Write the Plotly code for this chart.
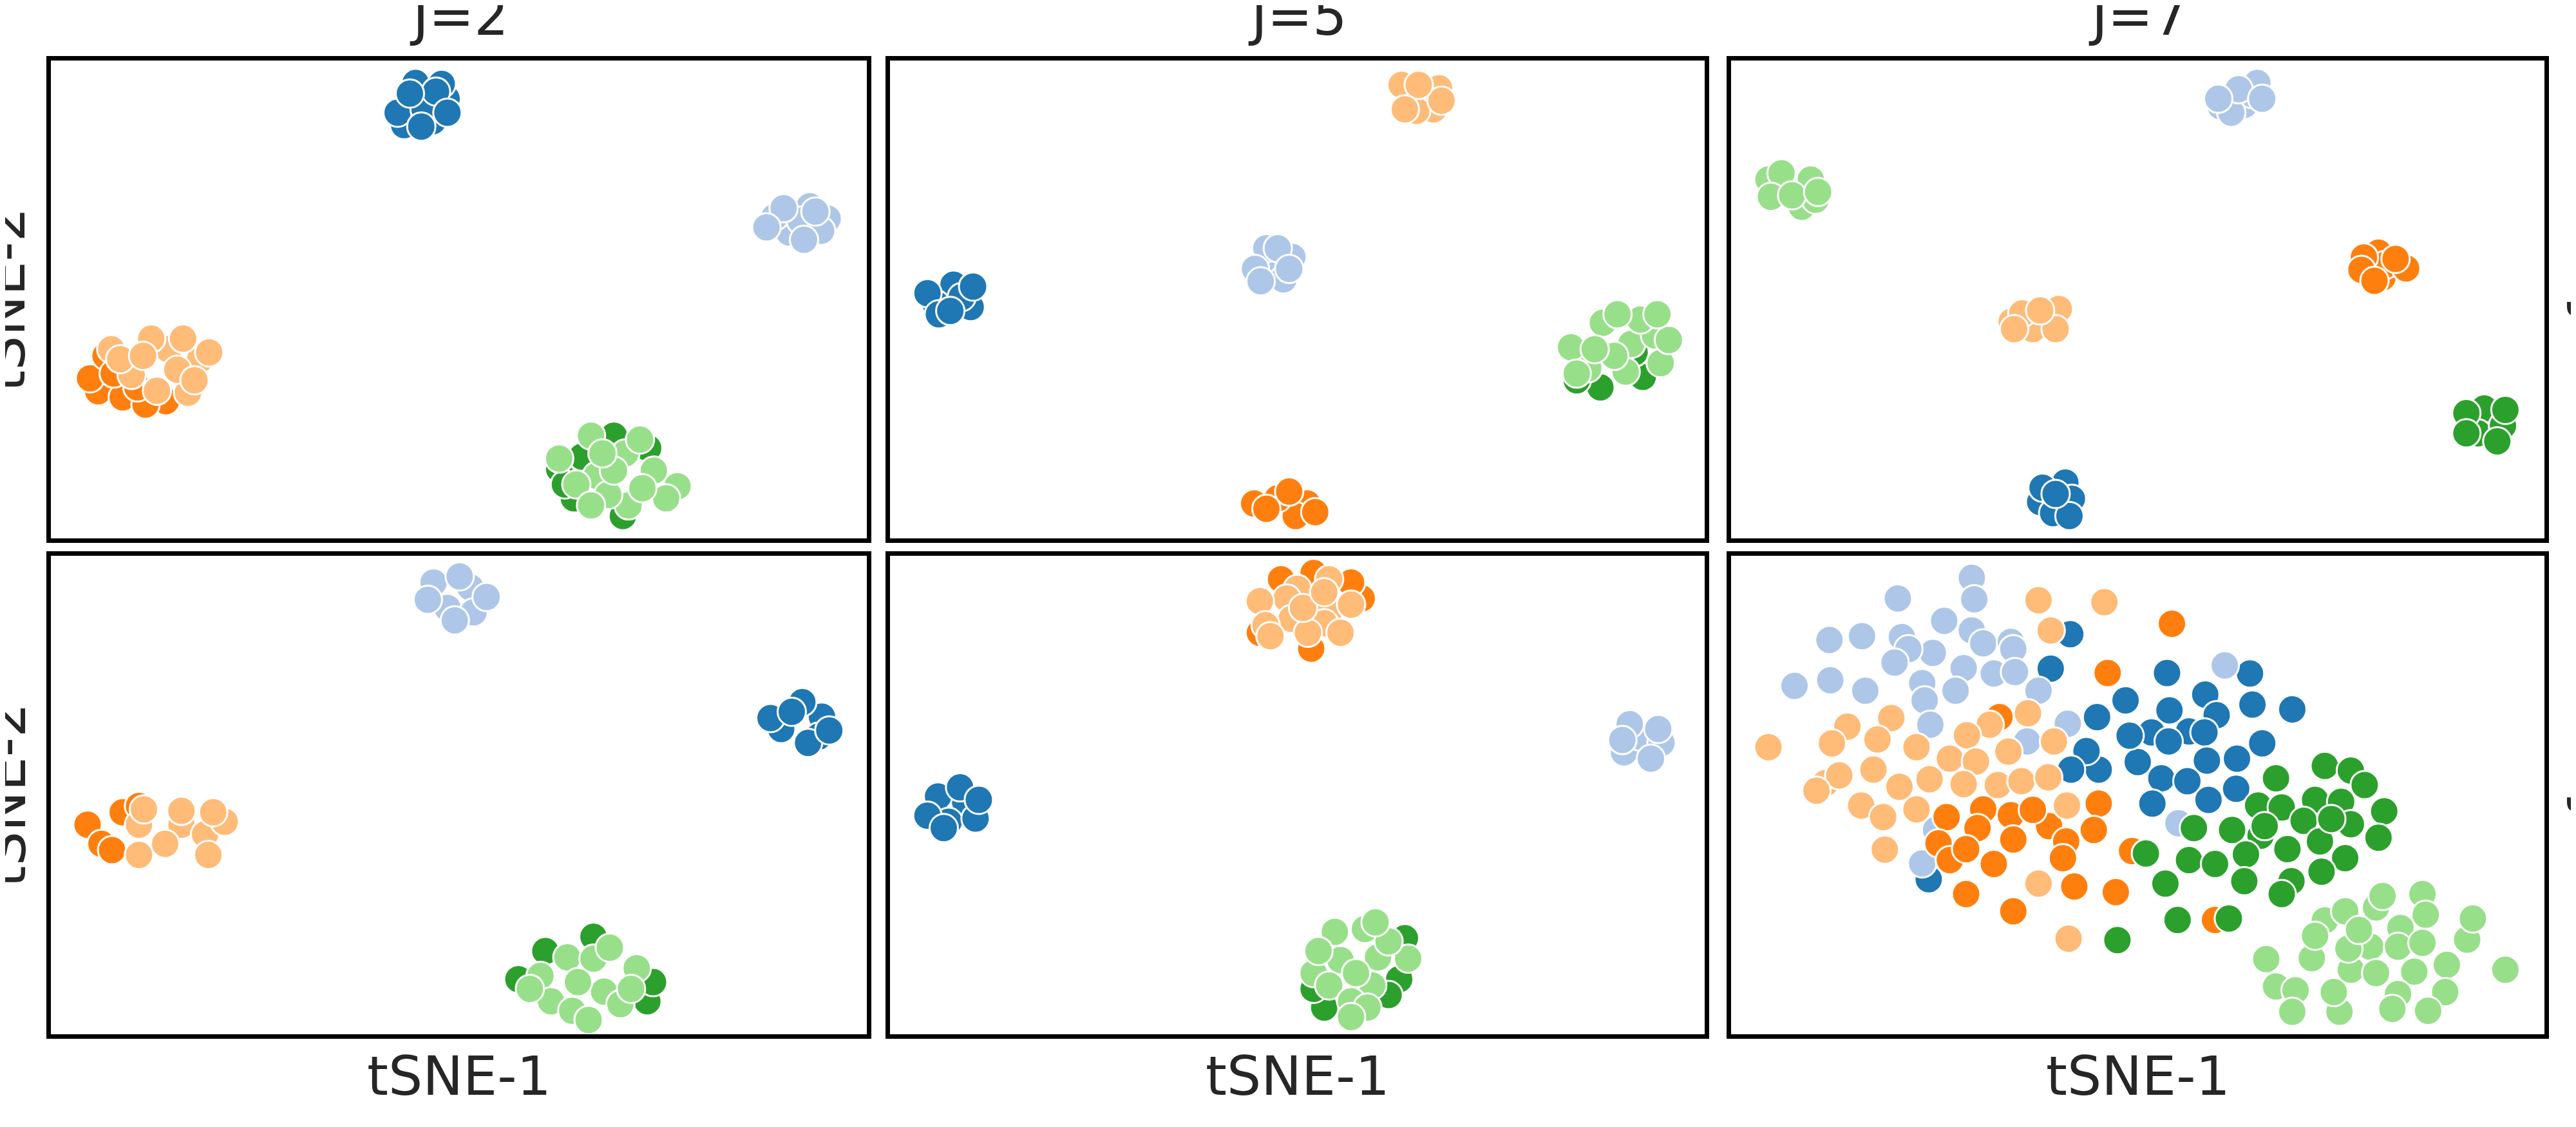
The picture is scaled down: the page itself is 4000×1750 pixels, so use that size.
import plotly.graph_objects as go

W, H = 4000, 1750

# hue categories (tab20 pairs) in plotting order
CLASSES = ["c0", "c1", "c2", "c3", "c4", "c5"]
COLORS = ["#1f77b4", "#aec7e8", "#ff7f0e", "#ffbb78", "#2ca02c", "#98df8a"]

COL_TITLES = ["J=2", "J=5", "J=7"]
X_LABEL = "tSNE-1"
Y_LABEL = "tSNE-2"
ROW_LABEL = "\u0192"

# ---------------- panel 1 (row 1, J=2) ----------------
p1_c0 = [(43.7, 90.9), (48.5, 92.0), (46.8, 87.3), (43.3, 86.5), (44.7, 95.3), (47.9, 95.1),
         (42.5, 89.1), (45.8, 89.8), (47.2, 93.5), (44.0, 93.1), (48.6, 89.1), (45.4, 86.2)]
p1_c1 = [(90.5, 64.0), (95.2, 66.9), (93.0, 69.5), (88.7, 67.3), (91.9, 66.5), (94.4, 64.4),
         (89.8, 69.1), (92.3, 62.5), (87.7, 65.1), (93.7, 68.4)]
p1_c2 = [(5.8, 30.8), (8.8, 29.5), (4.8, 33.5), (6.7, 38.2), (14.1, 28.7), (11.6, 28.0),
         (7.7, 34.5), (10.6, 31.6)]
p1_c3 = [(7.4, 39.6), (14.4, 39.6), (9.9, 34.2), (13.0, 30.9), (16.8, 30.5), (18.3, 37.5),
         (12.3, 41.8), (16.2, 41.8), (19.4, 38.9), (15.5, 35.3), (8.5, 37.5), (11.3, 38.2),
         (17.6, 33.1)]
p1_c4 = [(62.3, 14.5), (64.1, 8.4), (66.2, 21.1), (73.2, 18.9), (70.1, 4.7), (65.1, 17.1),
         (69.0, 21.5), (63.0, 11.3)]
p1_c5 = [(66.9, 13.1), (70.4, 17.8), (72.2, 20.7), (66.2, 21.5), (62.3, 16.7), (64.4, 11.3),
         (76.8, 10.9), (75.4, 8.4), (70.8, 6.9), (68.3, 9.1), (73.9, 14.2), (69.0, 14.2),
         (72.5, 10.5), (67.6, 17.8), (66.2, 6.9)]

# ---------------- panel 2 (row 1, J=5) ----------------
p2_c0 = [(7.8, 53.1), (5.6, 49.1), (9.9, 48.4), (4.6, 51.3), (8.8, 50.5), (6.0, 46.9),
         (10.2, 52.7), (7.4, 47.6)]
p2_c1 = [(46.6, 57.2), (49.4, 58.9), (46.2, 60.7), (48.3, 54.2), (44.8, 56.4), (47.6, 60.7),
         (45.5, 53.8), (49.0, 56.4)]
p2_c2 = [(44.7, 7.3), (51.2, 7.3), (49.8, 4.7), (47.6, 8.4), (46.2, 6.2), (49.0, 9.8),
         (52.2, 5.5)]
p2_c3 = [(65.4, 92.7), (63.5, 92.0), (67.4, 94.2), (62.8, 94.9), (66.7, 89.8), (64.6, 89.5),
         (67.7, 91.6), (64.9, 94.9), (63.2, 89.8)]
p2_c4 = [(92.4, 33.8), (87.2, 31.6), (93.2, 46.2), (84.3, 33.1), (91.4, 38.9)]
p2_c5 = [(85.7, 35.6), (90.3, 34.9), (87.5, 45.1), (91.0, 40.7), (93.9, 42.5), (83.6, 40.0),
         (94.6, 36.7), (92.1, 45.8), (88.9, 38.2), (84.3, 34.5), (95.6, 41.5), (86.5, 39.6),
         (89.3, 46.9), (94.2, 46.9)]

# ---------------- panel 3 (row 1, J=7) ----------------
p3_c0 = [(41.1, 11.7), (41.9, 8.3), (38.0, 7.6), (39.6, 5.3), (38.3, 10.6), (41.6, 4.7),
         (39.9, 9.3)]
p3_c1 = [(63.1, 90.7), (64.0, 93.0), (60.2, 90.4), (61.5, 89.1), (64.7, 95.3), (62.4, 94.0),
         (65.3, 92.0), (59.9, 92.0)]
p3_c2 = [(79.6, 59.8), (80.1, 54.6), (80.4, 57.2), (77.8, 58.8), (83.0, 56.5), (77.5, 56.2),
         (81.7, 58.5), (79.1, 53.9)]
p3_c3 = [(34.5, 45.4), (39.0, 45.8), (40.3, 48.0), (37.1, 43.8), (35.8, 47.1), (39.9, 43.8),
         (34.8, 43.8), (38.0, 47.7)]
p3_c4 = [(92.6, 27.2), (91.8, 22.0), (94.9, 23.6), (90.4, 26.2), (94.2, 20.3), (90.4, 22.0),
         (95.2, 26.9)]
p3_c5 = [(4.6, 75.1), (8.7, 69.4), (10.4, 70.9), (8.5, 73.8), (6.2, 76.4), (9.8, 75.1),
         (4.9, 71.5), (7.5, 71.8), (10.7, 72.5)]

# ---------------- panel 4 (row 2, J=2) ----------------
p4_c0 = [(89.5, 63.8), (94.5, 66.4), (92.1, 69.4), (94.1, 62.2), (88.2, 66.1), (92.8, 60.9),
         (90.8, 67.4), (95.4, 63.5)]
p4_c1 = [(46.9, 94.4), (51.4, 93.4), (48.6, 89.1), (51.8, 88.2), (53.4, 91.4), (46.2, 90.8),
         (50.1, 95.7), (49.5, 86.5)]
p4_c2 = [(4.5, 43.8), (8.8, 46.4), (6.2, 39.8), (10.8, 47.7), (7.5, 38.5)]
p4_c3 = [(10.8, 43.8), (16.0, 43.8), (18.9, 41.8), (21.3, 44.4), (10.8, 37.5), (19.3, 37.5),
         (14.0, 39.8), (11.4, 47.0), (19.9, 46.4), (16.0, 46.7)]
p4_c4 = [(60.6, 17.4), (66.5, 20.4), (57.3, 11.5), (73.1, 6.9), (73.8, 10.9)]
p4_c5 = [(63.3, 16.1), (66.5, 15.8), (71.8, 13.8), (60.0, 12.2), (67.8, 8.9), (61.3, 6.9),
         (63.9, 4.9), (69.8, 6.3), (64.6, 10.9), (68.5, 18.1), (58.7, 9.5), (71.1, 9.5),
         (65.9, 3.0)]

# ---------------- panel 5 (row 2, J=5) ----------------
p5_c0 = [(9.2, 48.7), (5.9, 49.7), (7.2, 44.4), (10.5, 45.1), (4.6, 45.7), (8.6, 51.6),
         (6.6, 43.1), (10.9, 49.0)]
p5_c1 = [(90.1, 58.9), (92.1, 62.2), (94.7, 60.9), (93.4, 57.6), (90.8, 64.8), (94.3, 63.8),
         (89.9, 61.5)]
p5_c2 = [(48.0, 95.1), (52.0, 96.4), (57.9, 91.1), (51.7, 80.6), (45.4, 83.9), (56.6, 94.4)]
p5_c3 = [(53.9, 95.1), (50.0, 93.1), (48.7, 91.1), (45.4, 90.5), (53.9, 88.5), (49.3, 86.8),
         (46.1, 85.5), (53.3, 85.9), (56.6, 89.8), (51.3, 83.9), (46.7, 83.2), (55.3, 83.9),
         (50.7, 89.1), (53.3, 92.4)]
p5_c4 = [(63.2, 20.1), (62.5, 11.5), (53.3, 5.6), (61.2, 8.2), (52.0, 9.5)]
p5_c5 = [(54.6, 21.4), (58.3, 22.0), (55.3, 15.5), (59.9, 16.1), (63.6, 15.8), (52.0, 12.8),
         (53.9, 10.2), (59.2, 10.2), (56.6, 6.9), (58.6, 5.6), (56.6, 3.6), (52.6, 17.4),
         (61.2, 19.4), (57.2, 12.8), (59.6, 23.4)]

# ---------------- panel 6 (row 2, J=7) ----------------
p6_c0 = [(41.7, 83.6), (39.3, 76.4), (53.6, 75.5), (63.8, 75.4), (48.5, 69.8), (58.3, 71.0),
         (53.9, 67.7), (64.1, 68.9), (45.0, 66.3), (69.0, 67.9), (59.7, 66.7), (51.7, 63.1),
         (56.3, 63.3), (53.8, 61.2), (58.2, 63.1), (65.3, 60.8), (50.0, 56.9), (45.2, 55.3),
         (43.7, 59.2), (58.5, 57.2), (62.2, 57.6), (41.8, 55.3), (52.9, 53.5), (56.1, 52.9),
         (62.1, 51.3), (51.8, 48.2), (58.7, 49.0), (24.3, 32.4), (49.0, 62.4)]
p6_c1 = [(29.6, 95.4), (29.9, 90.9), (20.5, 91.1), (26.2, 86.4), (29.6, 84.4), (12.1, 82.4),
         (16.1, 83.2), (21.0, 83.0), (31.0, 81.7), (34.4, 82.0), (24.8, 79.7), (21.8, 80.5),
         (34.7, 80.5), (20.1, 77.7), (28.6, 76.5), (32.3, 75.4), (34.9, 75.7), (23.5, 73.4),
         (12.2, 74.0), (7.8, 72.8), (16.5, 71.8), (27.6, 71.8), (37.8, 71.8), (23.8, 69.8),
         (24.5, 64.7), (36.4, 61.2), (41.4, 64.9), (60.7, 77.1), (55.0, 44.1), (23.5, 35.7),
         (25.2, 42.7)]
p6_c2 = [(54.2, 85.8), (46.3, 75.5), (33.0, 66.3), (26.5, 45.4), (31.0, 47.0), (34.4, 45.8),
         (30.3, 43.1), (45.2, 48.2), (44.6, 42.7), (39.1, 43.5), (34.7, 40.7), (41.2, 40.3),
         (25.5, 39.9), (26.9, 36.4), (32.3, 35.6), (40.8, 36.8), (42.2, 30.9), (28.9, 29.3),
         (47.3, 29.7), (34.7, 25.7), (49.3, 38.3), (59.5, 23.9), (37.1, 46.9), (28.9, 38.7)]
p6_c3 = [(37.8, 90.7), (45.9, 90.3), (39.3, 84.4), (36.5, 67.1), (31.8, 64.7), (39.7, 61.2),
         (29.0, 62.5), (14.3, 64.3), (12.4, 60.8), (19.7, 66.1), (18.0, 61.6), (22.8, 60.0),
         (26.9, 57.6), (30.1, 57.0), (34.1, 59.1), (17.5, 55.3), (24.4, 53.3), (28.6, 52.3),
         (32.8, 52.1), (35.7, 52.9), (39.0, 53.7), (20.7, 51.7), (11.6, 52.5), (13.3, 54.1),
         (16.0, 47.8), (22.8, 47.0), (18.7, 45.4), (41.3, 47.8), (4.6, 60.0), (18.9, 38.6),
         (37.8, 31.5), (41.5, 20.0), (10.5, 50.9)]
p6_c4 = [(73.0, 56.1), (76.2, 55.1), (67.0, 53.5), (77.9, 52.1), (71.8, 49.0), (75.0, 48.6),
         (64.8, 47.8), (67.7, 47.4), (80.3, 46.6), (70.4, 44.6), (76.2, 43.9), (61.6, 42.7),
         (56.9, 43.1), (65.1, 41.5), (79.6, 41.1), (68.4, 38.7), (72.4, 40.3), (51.0, 37.8),
         (56.3, 36.4), (59.5, 35.6), (63.3, 37.6), (75.5, 36.8), (53.4, 31.5), (63.1, 32.0),
         (68.9, 32.0), (72.6, 34.0), (67.7, 29.3), (54.9, 23.9), (61.2, 24.2), (47.5, 19.7),
         (65.6, 43.5), (73.8, 45.0)]
p6_c5 = [(65.8, 15.7), (67.0, 10.0), (69.4, 9.2), (69.0, 4.7), (74.8, 4.7), (74.1, 8.8),
         (71.4, 15.9), (73.0, 23.8), (75.5, 25.7), (79.3, 26.5), (80.1, 28.9), (85.0, 29.3),
         (85.4, 25.0), (82.3, 22.2), (78.6, 18.3), (82.0, 18.3), (85.0, 19.1), (90.5, 19.8),
         (91.2, 24.2), (95.2, 13.5), (88.0, 14.5), (76.2, 13.5), (79.3, 12.8), (84.0, 13.1),
         (82.0, 8.4), (87.8, 8.8), (85.7, 4.9), (81.3, 5.3), (75.9, 17.9), (71.8, 20.6),
         (77.2, 21.8)]

PANELS = [
    [p1_c0, p1_c1, p1_c2, p1_c3, p1_c4, p1_c5],
    [p2_c0, p2_c1, p2_c2, p2_c3, p2_c4, p2_c5],
    [p3_c0, p3_c1, p3_c2, p3_c3, p3_c4, p3_c5],
    [p4_c0, p4_c1, p4_c2, p4_c3, p4_c4, p4_c5],
    [p5_c0, p5_c1, p5_c2, p5_c3, p5_c4, p5_c5],
    [p6_c0, p6_c1, p6_c2, p6_c3, p6_c4, p6_c5],
]

# ---------------- layout (pixels) ----------------
COL_X = [(71, 1338), (1374, 2639), (2680, 3943)]
ROW_Y = [(86, 828), (855, 1598)]
LW = 7
FONT = "DejaVu Sans"
TXT = "#262626"
FS = 84

fig = go.Figure()
layout = dict(
    width=W, height=H, margin=dict(l=0, r=0, t=0, b=0),
    paper_bgcolor="white", plot_bgcolor="white", showlegend=False,
    font=dict(family=FONT, color=TXT, size=FS),
)

for k, classes in enumerate(PANELS):
    r, c = divmod(k, 3)
    ax = "" if k == 0 else str(k + 1)
    for ci, pts in enumerate(classes):
        fig.add_trace(go.Scatter(
            x=[p[0] for p in pts], y=[p[1] for p in pts],
            mode="markers", name=CLASSES[ci],
            xaxis="x" + ax, yaxis="y" + ax,
            marker=dict(size=44, color=COLORS[ci], line=dict(color="white", width=3)),
            hoverinfo="skip",
        ))
    x0, x1 = COL_X[c]
    y0, y1 = ROW_Y[r]
    common = dict(range=[0, 100], showticklabels=False, ticks="", showgrid=False,
                  zeroline=False, showline=True, linecolor="black", linewidth=LW,
                  mirror=True, fixedrange=True)
    layout["xaxis" + ax] = dict(domain=[x0 / W, x1 / W], anchor="y" + ax, **common)
    layout["yaxis" + ax] = dict(domain=[1 - y1 / H, 1 - y0 / H], anchor="x" + ax, **common)

ann = []
for c, t in enumerate(COL_TITLES):
    cx = (COL_X[c][0] + COL_X[c][1]) / 2
    ann.append(dict(text=t, x=cx / W, y=1 - 68 / H, xref="paper", yref="paper",
                    xanchor="center", yanchor="bottom", showarrow=False,
                    font=dict(size=FS, color=TXT, family=FONT)))
    ann.append(dict(text=X_LABEL, x=cx / W, y=1 - 1714 / H, xref="paper", yref="paper",
                    xanchor="center", yanchor="bottom", showarrow=False,
                    font=dict(size=FS, color=TXT, family=FONT)))
for r in range(2):
    cy = (ROW_Y[r][0] + ROW_Y[r][1]) / 2
    ann.append(dict(text=Y_LABEL, x=1 / W, y=1 - cy / H, xref="paper", yref="paper",
                    xanchor="center", yanchor="middle", textangle=-90, showarrow=False,
                    font=dict(size=FS, color=TXT, family=FONT)))
    ann.append(dict(text=ROW_LABEL, x=4024 / W, y=1 - (cy + 22) / H, xref="paper", yref="paper",
                    xanchor="center", yanchor="middle", textangle=90, showarrow=False,
                    font=dict(size=FS, color=TXT, family=FONT)))
layout["annotations"] = ann

fig.update_layout(**layout)
fig.write_html("out.html")
